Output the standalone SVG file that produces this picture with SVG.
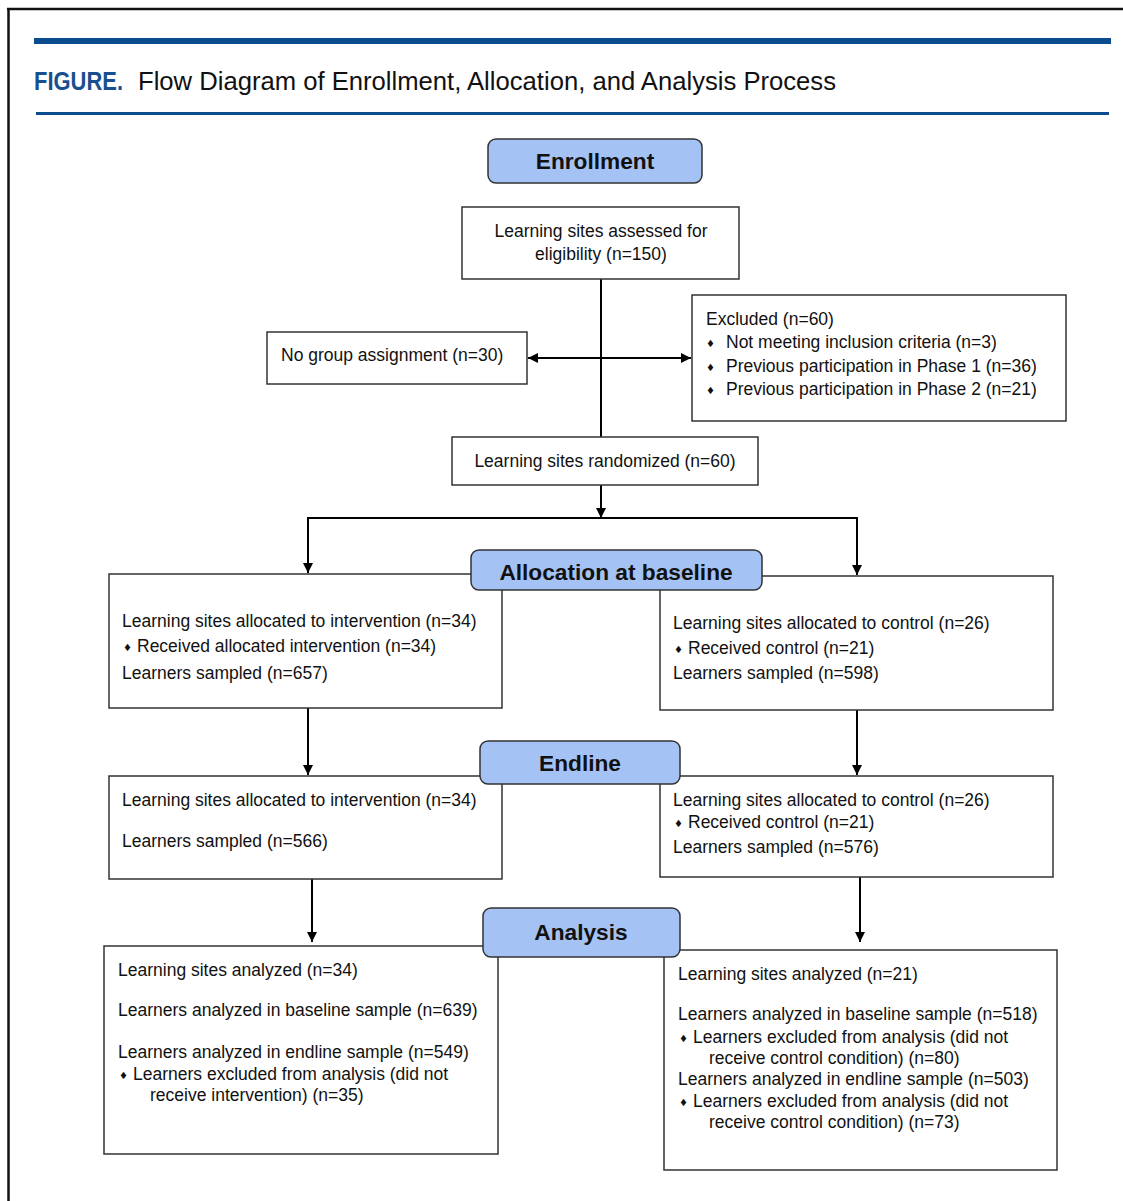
<svg xmlns="http://www.w3.org/2000/svg" width="1123" height="1201" viewBox="0 0 1123 1201">
<defs>
<marker id="ah" viewBox="0 0 10 10" refX="10" refY="5" markerWidth="10" markerHeight="10" markerUnits="userSpaceOnUse" orient="auto-start-reverse">
<path d="M0,0 L10,5 L0,10 z" fill="#000"/>
</marker>
<style>
.box{fill:#fff;stroke:#333;stroke-width:1.5}
.hdr{fill:#a4c2f4;stroke:#333;stroke-width:1.5}
.t{font-family:"Liberation Sans",Arial,sans-serif;font-size:17.5px;fill:#111}
.h{font-family:"Liberation Sans",Arial,sans-serif;font-size:22.7px;font-weight:bold;fill:#111;text-anchor:middle}
.c{text-anchor:middle}
.b{font-family:"DejaVu Sans",sans-serif;font-size:10px;fill:#111}
.ln{stroke:#000;stroke-width:2;fill:none}
.ar{stroke:#000;stroke-width:2;fill:none;marker-end:url(#ah)}
</style>
</defs>
<rect width="1123" height="1201" fill="#fff"/>
<g id="frame">
<line x1="7" y1="9" x2="1123" y2="9" stroke="#111" stroke-width="2.5"/>
<line x1="8.5" y1="9" x2="8.5" y2="1201" stroke="#111" stroke-width="2.5"/>
<rect x="34" y="38" width="1077" height="6" fill="#0b4c8e"/>
<rect x="36" y="112" width="1073" height="3" fill="#0b4c8e"/>
<text x="34" y="90" font-family="'Liberation Sans',Arial,sans-serif" font-size="25" font-weight="bold" fill="#1a4f8f" textLength="89" lengthAdjust="spacingAndGlyphs">FIGURE.</text>
<text x="138" y="90" font-family="'Liberation Sans',Arial,sans-serif" font-size="25" fill="#111" textLength="698" lengthAdjust="spacingAndGlyphs">Flow Diagram of Enrollment, Allocation, and Analysis Process</text>
</g>
<g id="connectors">
<line class="ln" x1="601" y1="279" x2="601" y2="437"/>
<line class="ar" x1="601" y1="358" x2="691" y2="358"/>
<line class="ar" x1="601" y1="358" x2="528" y2="358"/>
<line class="ar" x1="601" y1="485" x2="601" y2="518"/>
<polyline class="ln" points="308,573 308,518 857,518 857,575"/>
<line class="ar" x1="308" y1="518" x2="308" y2="573"/>
<line class="ar" x1="857" y1="518" x2="857" y2="575"/>
<line class="ar" x1="308" y1="708" x2="308" y2="775"/>
<line class="ar" x1="857" y1="710" x2="857" y2="775"/>
<line class="ar" x1="312" y1="879" x2="312" y2="942"/>
<line class="ar" x1="860" y1="877" x2="860" y2="942"/>
</g>
<g id="enrollment">
<rect class="hdr" x="488" y="139" width="214" height="44" rx="8"/>
<text class="h" x="595" y="169">Enrollment</text>
</g>
<g id="assessed">
<rect class="box" x="462" y="207" width="277" height="72"/>
<text class="t c" x="601" y="237">Learning sites assessed for</text>
<text class="t c" x="601" y="260">eligibility (n=150)</text>
</g>
<g id="nogroup">
<rect class="box" x="267" y="332" width="260" height="52"/>
<text class="t" x="281" y="361">No group assignment (n=30)</text>
</g>
<g id="excluded">
<rect class="box" x="692" y="295" width="374" height="126"/>
<text class="t" x="706" y="325">Excluded (n=60)</text>
<text class="b" x="706" y="347">♦</text>
<text class="t" x="726" y="348">Not meeting inclusion criteria (n=3)</text>
<text class="b" x="706" y="371">♦</text>
<text class="t" x="726" y="372">Previous participation in Phase 1 (n=36)</text>
<text class="b" x="706" y="394">♦</text>
<text class="t" x="726" y="395">Previous participation in Phase 2 (n=21)</text>
</g>
<g id="randomized">
<rect class="box" x="452" y="437" width="306" height="48"/>
<text class="t c" x="605" y="467">Learning sites randomized (n=60)</text>
</g>
<g id="alloc-int">
<rect class="box" x="109" y="574" width="393" height="134"/>
<text class="t" x="122" y="627">Learning sites allocated to intervention (n=34)</text>
<text class="b" x="123" y="651">♦</text>
<text class="t" x="137" y="652">Received allocated intervention (n=34)</text>
<text class="t" x="122" y="679">Learners sampled (n=657)</text>
</g>
<g id="alloc-ctl">
<rect class="box" x="660" y="576" width="393" height="134"/>
<text class="t" x="673" y="629">Learning sites allocated to control (n=26)</text>
<text class="b" x="674" y="653">♦</text>
<text class="t" x="688" y="654">Received control (n=21)</text>
<text class="t" x="673" y="679">Learners sampled (n=598)</text>
</g>
<g id="allocation">
<rect class="hdr" x="471" y="550" width="291" height="40" rx="8"/>
<text class="h" x="616" y="580">Allocation at baseline</text>
</g>
<g id="end-int">
<rect class="box" x="109" y="776" width="393" height="103"/>
<text class="t" x="122" y="806">Learning sites allocated to intervention (n=34)</text>
<text class="t" x="122" y="847">Learners sampled (n=566)</text>
</g>
<g id="end-ctl">
<rect class="box" x="660" y="776" width="393" height="101"/>
<text class="t" x="673" y="806">Learning sites allocated to control (n=26)</text>
<text class="b" x="674" y="827">♦</text>
<text class="t" x="688" y="828">Received control (n=21)</text>
<text class="t" x="673" y="853">Learners sampled (n=576)</text>
</g>
<g id="endline">
<rect class="hdr" x="480" y="741" width="200" height="43" rx="8"/>
<text class="h" x="580" y="771">Endline</text>
</g>
<g id="an-int">
<rect class="box" x="104" y="946" width="394" height="208"/>
<text class="t" x="118" y="976">Learning sites analyzed (n=34)</text>
<text class="t" x="118" y="1016">Learners analyzed in baseline sample (n=639)</text>
<text class="t" x="118" y="1058">Learners analyzed in endline sample (n=549)</text>
<text class="b" x="119" y="1079">♦</text>
<text class="t" x="133" y="1080">Learners excluded from analysis (did not</text>
<text class="t" x="150" y="1101">receive intervention) (n=35)</text>
</g>
<g id="an-ctl">
<rect class="box" x="664" y="950" width="393" height="220"/>
<text class="t" x="678" y="980">Learning sites analyzed (n=21)</text>
<text class="t" x="678" y="1020">Learners analyzed in baseline sample (n=518)</text>
<text class="b" x="679" y="1042">♦</text>
<text class="t" x="693" y="1043">Learners excluded from analysis (did not</text>
<text class="t" x="709" y="1064">receive control condition) (n=80)</text>
<text class="t" x="678" y="1085">Learners analyzed in endline sample (n=503)</text>
<text class="b" x="679" y="1106">♦</text>
<text class="t" x="693" y="1107">Learners excluded from analysis (did not</text>
<text class="t" x="709" y="1128">receive control condition) (n=73)</text>
</g>
<g id="analysis">
<rect class="hdr" x="483" y="908" width="197" height="49" rx="8"/>
<text class="h" x="581" y="940">Analysis</text>
</g>
</svg>
